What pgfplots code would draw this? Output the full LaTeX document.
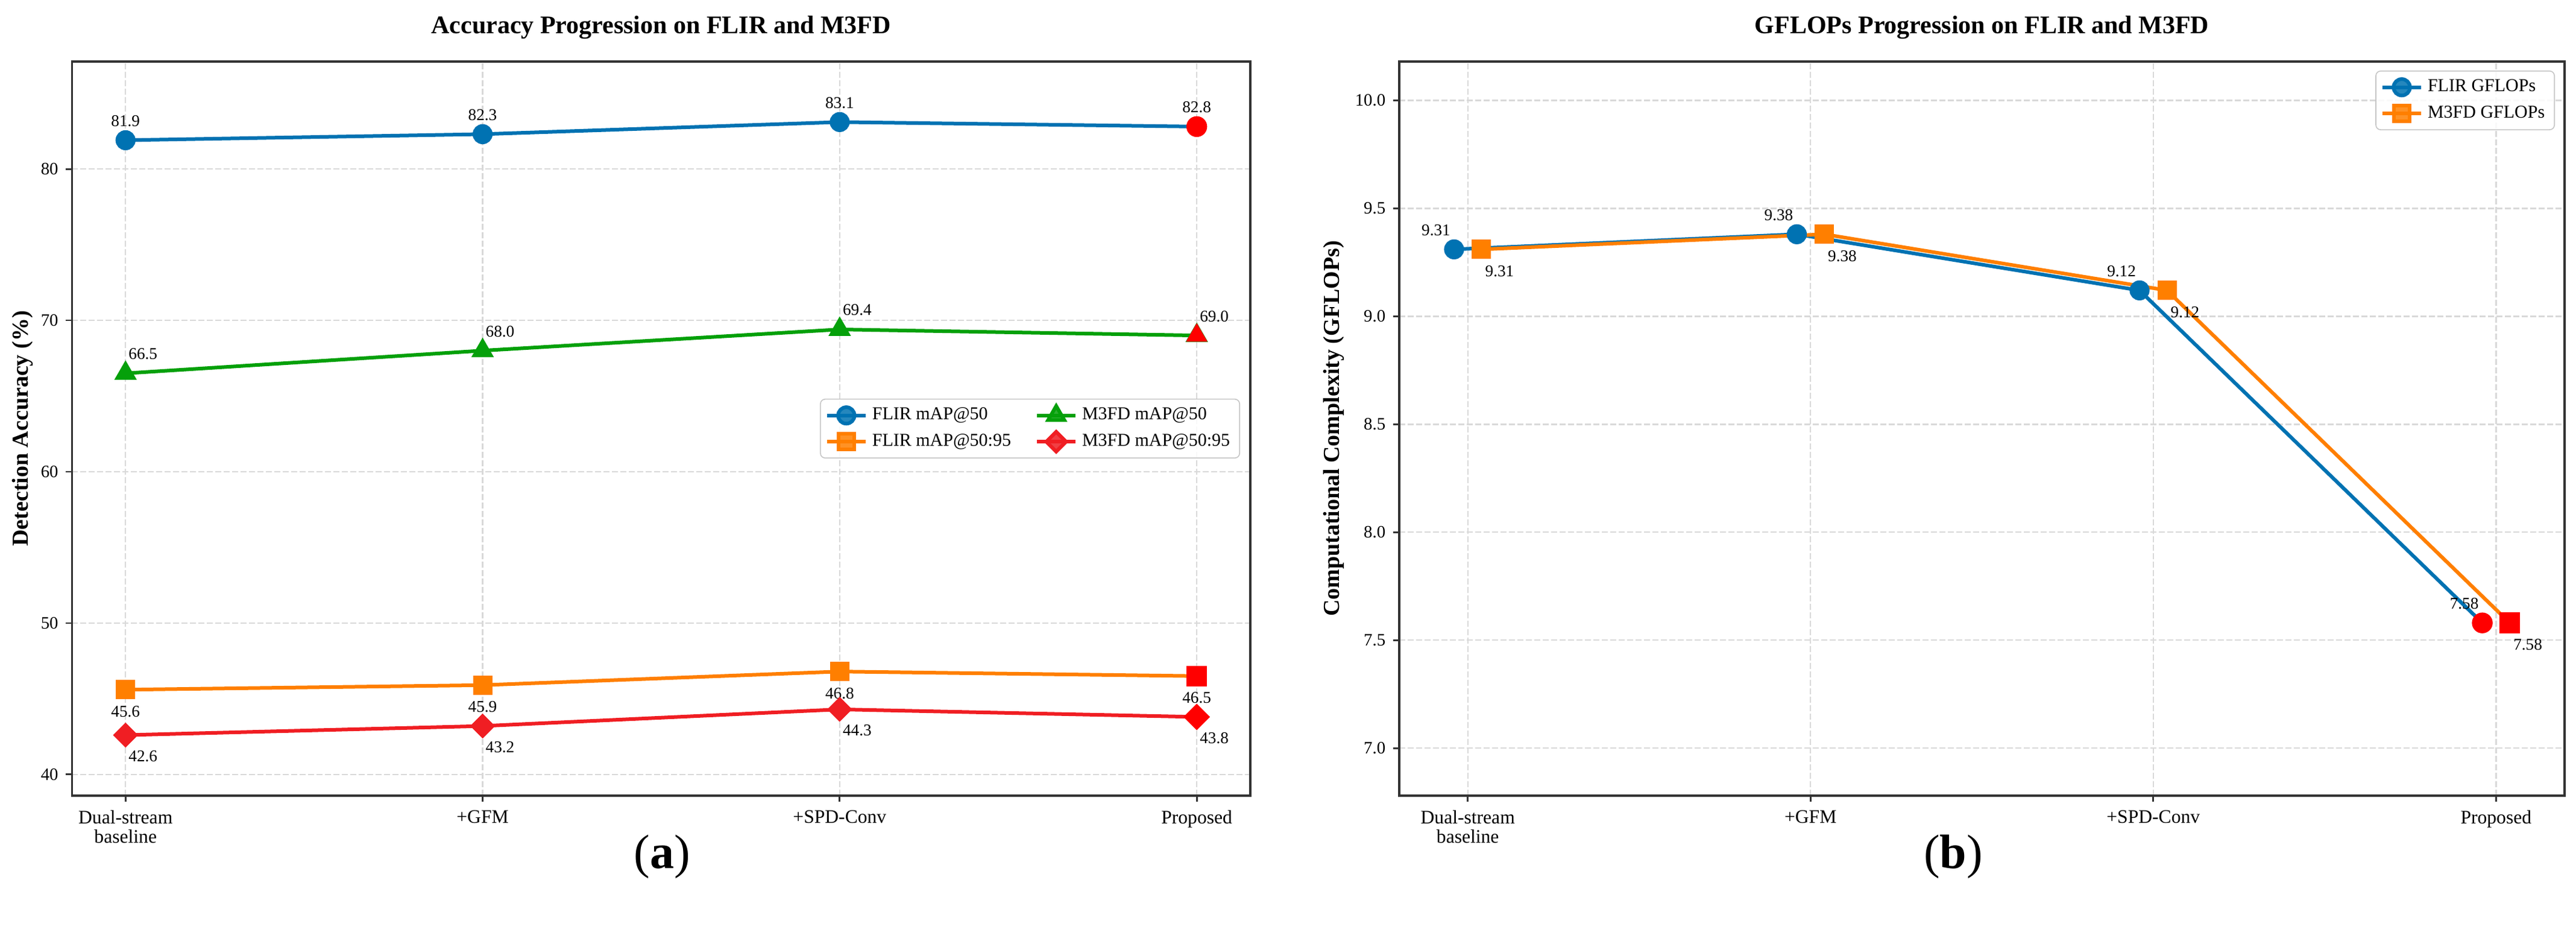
\documentclass[border=0pt]{standalone}
\usepackage{fontspec}
\setmainfont{Liberation Serif}
\usepackage{pgfplots}
\pgfplotsset{compat=1.18}
\definecolor{cblue}{HTML}{0072B2}
\definecolor{corange}{HTML}{FF7F00}
\definecolor{cgreen}{HTML}{05A00A}
\definecolor{cred}{HTML}{F01E23}
\definecolor{gridc}{HTML}{D9D9D9}
\definecolor{spine}{HTML}{333333}

\tikzset{annot/.style={font=\fontsize{6.8}{8}\selectfont, inner sep=0pt, anchor=center, text=black},
  ptitle/.style={font=\bfseries\fontsize{10.5}{12}\selectfont, inner sep=0pt, anchor=center}}
\pgfplotsset{
  common/.style={
    scale only axis,
    axis line style={spine, line width=0.8pt},
    tick style={spine, line width=0.7pt},
    tick align=outside, tick pos=left,
    major tick length=2.5pt,
    grid=major,
    grid style={gridc, line width=0.6pt, dash pattern=on 2.4pt off 1.1pt},
    xtick={0,1,2,3},
    xticklabels={{Dual-stream\\baseline},{+GFM},{+SPD-Conv},{Proposed}},
    xticklabel style={align=center, font=\fontsize{7.9}{7.9}\selectfont, inner sep=0pt, yshift=-3.5pt},
    yticklabel style={font=\fontsize{7.2}{8}\selectfont, inner sep=0pt, xshift=-3pt},
    ylabel style={font=\bfseries\fontsize{9.5}{11}\selectfont, anchor=center},
    legend style={draw=gray!45, rounded corners=2pt, fill=white, fill opacity=0.85, text opacity=1,
      font=\fontsize{7.5}{8.5}\selectfont, inner xsep=2pt, inner ysep=1.5pt, row sep=0.4pt},
    legend cell align=left,
    legend image code/.code={\draw[mark repeat=2,mark phase=2,#1] plot coordinates {(0pt,0pt) (8pt,0pt) (16pt,0pt)};},
  },
}

\begin{document}
\begin{tikzpicture}
\path[use as bounding box] (0,0) rectangle (1068.25pt,387.5pt);

% ---------------- (a) ----------------
\begin{axis}[common,
  at={(29.85pt,57.75pt)}, anchor=south west,
  width=488.65pt, height=304.25pt,
  xmin=-0.15, xmax=3.15, ymin=38.6, ymax=87.1,
  ytick={40,50,60,70,80},
  yticklabels={40,50,60,70,80},
  ylabel={Detection Accuracy (\%)},
  ylabel style={at={(axis description cs:-0.0419,0.5)}},
  legend columns=2,
  legend style={at={(axis description cs:1,0.5)}, anchor=east, xshift=-4.25pt,
    /tikz/every even column/.append style={column sep=8pt}},
  clip=false,
]
\addplot[cblue, line width=1.5pt, mark=*, mark size=3.4pt, mark options={solid}] coordinates {(0,81.9) (1,82.3) (2,83.1) (3,82.8)};
\addlegendentry{FLIR mAP@50}
\addplot[cgreen, line width=1.5pt, mark=triangle*, mark size=3.9pt] coordinates {(0,66.5) (1,68.0) (2,69.4) (3,69.0)};
\addlegendentry{M3FD mAP@50}
\addplot[corange, line width=1.5pt, mark=square*, mark size=3.25pt] coordinates {(0,45.6) (1,45.9) (2,46.8) (3,46.5)};
\addlegendentry{FLIR mAP@50:95}
\addplot[cred, line width=1.5pt, mark=square*, mark size=2.9pt, mark options={rotate=45}] coordinates {(0,42.6) (1,43.2) (2,44.3) (3,43.8)};
\addlegendentry{M3FD mAP@50:95}
% highlighted final points
\addplot[forget plot, only marks, red, mark=*, mark size=4.1pt] coordinates {(3,82.8)};
\addplot[forget plot, only marks, red, mark=triangle*, mark size=4.75pt] coordinates {(3,69.0)};
\addplot[forget plot, only marks, red, mark=square*, mark size=4.1pt] coordinates {(3,46.5)};
\addplot[forget plot, only marks, red, mark=square*, mark size=3.7pt, mark options={rotate=45}] coordinates {(3,43.8)};
% value labels
\node[annot, yshift=8pt] at (axis cs:0,81.9) {81.9};
\node[annot, yshift=8pt] at (axis cs:1,82.3) {82.3};
\node[annot, yshift=8pt] at (axis cs:2,83.1) {83.1};
\node[annot, yshift=8pt] at (axis cs:3,82.8) {82.8};
\node[annot, xshift=7.25pt, yshift=8pt] at (axis cs:0,66.5) {66.5};
\node[annot, xshift=7.25pt, yshift=8pt] at (axis cs:1,68.0) {68.0};
\node[annot, xshift=7.25pt, yshift=8pt] at (axis cs:2,69.4) {69.4};
\node[annot, xshift=7.25pt, yshift=8pt] at (axis cs:3,69.0) {69.0};
\node[annot, yshift=-9pt] at (axis cs:0,45.6) {45.6};
\node[annot, yshift=-9pt] at (axis cs:1,45.9) {45.9};
\node[annot, yshift=-9pt] at (axis cs:2,46.8) {46.8};
\node[annot, yshift=-9pt] at (axis cs:3,46.5) {46.5};
\node[annot, xshift=7.25pt, yshift=-8.75pt] at (axis cs:0,42.6) {42.6};
\node[annot, xshift=7.25pt, yshift=-8.75pt] at (axis cs:1,43.2) {43.2};
\node[annot, xshift=7.25pt, yshift=-8.75pt] at (axis cs:2,44.3) {44.3};
\node[annot, xshift=7.25pt, yshift=-8.75pt] at (axis cs:3,43.8) {43.8};
\node[ptitle, yshift=14pt] at (rel axis cs:0.5,1) {Accuracy Progression on FLIR and M3FD};
\end{axis}

% ---------------- (b) ----------------
\begin{axis}[common,
  at={(580.25pt,57.75pt)}, anchor=south west,
  width=483.25pt, height=304.25pt,
  xmin=-0.2, xmax=3.2, ymin=6.78, ymax=10.18,
  ytick={7.0,7.5,8.0,8.5,9.0,9.5,10.0},
  yticklabels={7.0,7.5,8.0,8.5,9.0,9.5,10.0},
  ylabel={Computational Complexity (GFLOPs)},
  ylabel style={at={(axis description cs:-0.0564,0.5)}},
  legend style={at={(axis description cs:1,1)}, anchor=north east, xshift=-4pt, yshift=-3.75pt},
  clip=false,
]
\addplot[cblue, line width=1.5pt, mark=*, mark size=3.4pt] coordinates {(-0.04,9.31) (0.96,9.38) (1.96,9.12) (2.96,7.58)};
\addlegendentry{FLIR GFLOPs}
\addplot[corange, line width=1.5pt, mark=square*, mark size=3.25pt] coordinates {(0.04,9.31) (1.04,9.38) (2.04,9.12) (3.04,7.58)};
\addlegendentry{M3FD GFLOPs}
\addplot[forget plot, only marks, red, mark=*, mark size=4.1pt] coordinates {(2.96,7.58)};
\addplot[forget plot, only marks, red, mark=square*, mark size=4.1pt] coordinates {(3.04,7.58)};
\node[annot, xshift=-7.5pt, yshift=8pt] at (axis cs:-0.04,9.31) {9.31};
\node[annot, xshift=-7.5pt, yshift=8pt] at (axis cs:0.96,9.38) {9.38};
\node[annot, xshift=-7.5pt, yshift=8pt] at (axis cs:1.96,9.12) {9.12};
\node[annot, xshift=-7.5pt, yshift=8pt] at (axis cs:2.96,7.58) {7.58};
\node[annot, xshift=7.5pt, yshift=-9pt] at (axis cs:0.04,9.31) {9.31};
\node[annot, xshift=7.5pt, yshift=-9pt] at (axis cs:1.04,9.38) {9.38};
\node[annot, xshift=7.5pt, yshift=-9pt] at (axis cs:2.04,9.12) {9.12};
\node[annot, xshift=7.5pt, yshift=-9pt] at (axis cs:3.04,7.58) {7.58};
\node[ptitle, yshift=14pt] at (rel axis cs:0.5,1) {GFLOPs Progression on FLIR and M3FD};
\end{axis}

\node[font=\fontsize{20}{24}\selectfont, inner sep=0pt] at (274.5pt,32.5pt) {(\textbf{a})};
\node[font=\fontsize{20}{24}\selectfont, inner sep=0pt] at (810pt,32.5pt) {(\textbf{b})};
\end{tikzpicture}
\end{document}
